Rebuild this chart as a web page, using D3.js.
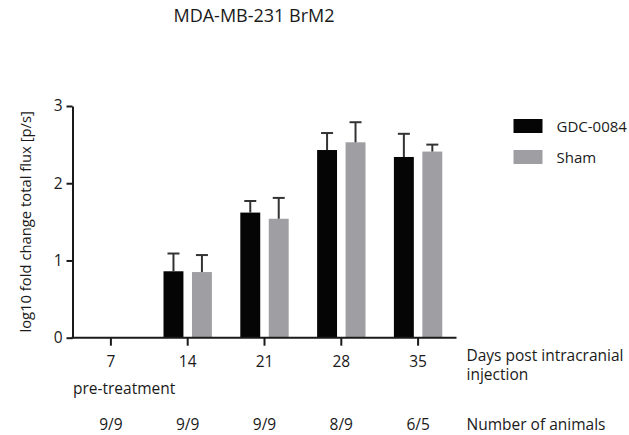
<!DOCTYPE html>
<html>
<head>
<meta charset="utf-8">
<script src="https://cdn.jsdelivr.net/npm/d3@7"></script>
<style>
  html, body { margin: 0; padding: 0; background: #fff; }
  svg { display: block; font-family: "Open Sans", "DejaVu Sans", sans-serif; }
</style>
</head>
<body>
<svg id="chart" width="629" height="435"></svg>
<script>
// ---- data ----
const title = "MDA-MB-231 BrM2";
const days = ["7", "14", "21", "28", "35"];
const series = ["GDC-0084", "Sham"];
const gdcMean = [0, 0.86, 1.62, 2.43, 2.34];
const gdcErr  = [0, 0.23, 0.15, 0.22, 0.30];
const shamMean = [0, 0.85, 1.54, 2.53, 2.41];
const shamErr  = [0, 0.22, 0.27, 0.26, 0.09];
const animals = ["9/9", "9/9", "9/9", "8/9", "6/5"];
const yTicks = [0, 1, 2, 3];
const yLabel = "log10 fold change total flux [p/s]";
const xLabelLines = ["Days post intracranial", "injection"];
const animalsLabel = "Number of animals";
const preLabel = "pre-treatment";
const colors = ["#050505", "#9f9fa3"];

// ---- layout ----
const svg = d3.select("#chart");
const mLeft = 72.5, mRight = 456.5, mTop = 106, mBottom = 337.7;
const ink = "#1a1a1a";
const fs = 15.5;

const x0 = d3.scaleBand().domain(days).range([mLeft, mRight]).paddingInner(0.37).paddingOuter(0.185);
const x1 = d3.scaleBand().domain(series).range([0, x0.bandwidth()]).paddingInner(0.3);
const y = d3.scaleLinear().domain([0, 3]).range([mBottom, mTop]);
const color = d3.scaleOrdinal().domain(series).range(colors);

const rows = days.map((d, i) => ({
  day: d,
  vals: [
    { s: series[0], v: gdcMean[i], e: gdcErr[i] },
    { s: series[1], v: shamMean[i], e: shamErr[i] }
  ]
}));

// title
svg.append("text").attr("x", 254).attr("y", 21.5).attr("text-anchor", "middle")
  .attr("font-size", 18).attr("fill", ink).text(title);

// bars
const g = svg.append("g");
const groups = g.selectAll("g.grp").data(rows).join("g")
  .attr("transform", d => `translate(${x0(d.day)},0)`);
groups.selectAll("rect").data(d => d.vals.filter(v => v.v > 0)).join("rect")
  .attr("x", d => x1(d.s)).attr("width", x1.bandwidth())
  .attr("y", d => y(d.v)).attr("height", d => y(0) - y(d.v))
  .attr("fill", d => color(d.s));
// error bars
const eb = groups.selectAll("g.err").data(d => d.vals.filter(v => v.v > 0)).join("g")
  .attr("class", "err");
eb.append("line")
  .attr("x1", d => x1(d.s) + x1.bandwidth() / 2).attr("x2", d => x1(d.s) + x1.bandwidth() / 2)
  .attr("y1", d => y(d.v)).attr("y2", d => y(d.v + d.e))
  .attr("stroke", "#333").attr("stroke-width", 2);
eb.append("line")
  .attr("x1", d => x1(d.s) + x1.bandwidth() / 2 - 6).attr("x2", d => x1(d.s) + x1.bandwidth() / 2 + 6)
  .attr("y1", d => y(d.v + d.e)).attr("y2", d => y(d.v + d.e))
  .attr("stroke", "#333").attr("stroke-width", 2);

// y axis
const yAxis = svg.append("g").attr("transform", `translate(${mLeft},0)`)
  .call(d3.axisLeft(y).tickValues(yTicks).tickFormat(d3.format("d")).tickSize(6).tickSizeOuter(0).tickPadding(4));
yAxis.selectAll("path, line").attr("stroke", ink).attr("stroke-width", 2);
yAxis.selectAll("text").attr("font-size", fs).attr("fill", ink)
  .attr("font-family", "'Open Sans', sans-serif");

// x axis
const xAxis = svg.append("g").attr("transform", `translate(0,${mBottom})`)
  .call(d3.axisBottom(x0).tickSize(8).tickSizeOuter(0).tickPadding(10));
xAxis.selectAll("path, line").attr("stroke", ink).attr("stroke-width", 2);
xAxis.select("path.domain").attr("d", `M${mLeft - 1},0H${mRight}`);
xAxis.selectAll("text").attr("font-size", fs).attr("fill", ink)
  .attr("font-family", "'Open Sans', sans-serif");

// y label
svg.append("text").attr("transform", `translate(31,${(mTop + mBottom) / 2}) rotate(-90)`)
  .attr("text-anchor", "middle").attr("font-size", 14.8).attr("fill", ink).text(yLabel);

// x label (right), two lines
svg.append("g").selectAll("text").data(xLabelLines).join("text")
  .attr("x", 466.5).attr("y", (d, i) => 360.5 + i * 19)
  .attr("font-size", fs).attr("fill", ink).text(d => d);

// pre-treatment
svg.append("text").attr("x", 73).attr("y", 394).attr("font-size", fs).attr("fill", ink).text(preLabel);

// animals row
svg.append("g").selectAll("text").data(days).join("text")
  .attr("x", d => x0(d) + x0.bandwidth() / 2).attr("y", 430)
  .attr("text-anchor", "middle").attr("font-size", fs).attr("fill", ink)
  .text((d, i) => animals[i]);
svg.append("text").attr("x", 466.5).attr("y", 429.5).attr("font-size", fs).attr("fill", ink).text(animalsLabel);

// legend
const lg = svg.append("g").selectAll("g").data(series).join("g")
  .attr("transform", (d, i) => `translate(513.5,${119 + i * 31})`);
lg.append("rect").attr("width", 29).attr("height", 14).attr("fill", d => color(d));
lg.append("text").attr("x", 43).attr("y", 12.5).attr("font-size", 15).attr("fill", ink).text(d => d);
</script>
</body>
</html>
